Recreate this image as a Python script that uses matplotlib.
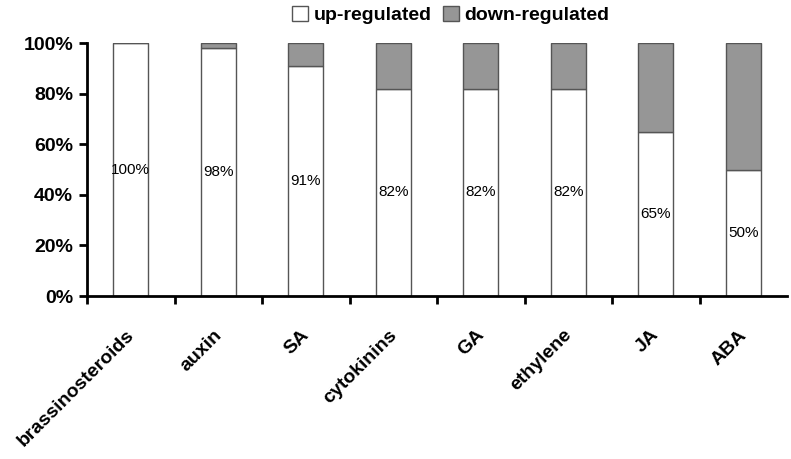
import numpy as np
import matplotlib
matplotlib.use("Agg")
import matplotlib.pyplot as plt
from matplotlib.ticker import FuncFormatter

categories = ["brassinosteroids", "auxin", "SA", "cytokinins", "GA", "ethylene", "JA", "ABA"]
up_pct = [100, 98, 91, 82, 82, 82, 65, 50]
down_pct = [0, 2, 9, 18, 18, 18, 35, 50]
up_labels = ["100%", "98%", "91%", "82%", "82%", "82%", "65%", "50%"]

plt.rcParams['font.family'] = ['Liberation Sans', 'DejaVu Sans']

fig = plt.figure(figsize=(7.91, 4.59), dpi=100)
ax = fig.add_axes([0.110, 0.355, 0.885, 0.551])

x = np.arange(len(categories))
ax.bar(x, up_pct, width=0.4, color='white', edgecolor='#555555', linewidth=1.0,
       label='up-regulated')
ax.bar(x, down_pct, width=0.4, bottom=up_pct, color='#969696', edgecolor='#555555',
       linewidth=1.0, label='down-regulated')

for xi, u, lab in zip(x, up_pct, up_labels):
    ax.text(xi, u / 2, lab, ha='center', va='center', fontsize=11, color='black')

ax.set_xlim(-0.5, len(categories) - 0.5)
ax.set_ylim(0, 100)
ax.set_yticks([0, 20, 40, 60, 80, 100])
ax.yaxis.set_major_formatter(FuncFormatter(lambda v, p: f"{int(v)}%"))
for lbl in ax.get_yticklabels():
    lbl.set_fontweight('bold')
    lbl.set_fontsize(14)

ax.set_xticks(x - 0.06)
ax.set_xticklabels(categories, rotation=45, ha='right', va='top', rotation_mode='anchor',
                   fontsize=14, fontweight='bold')
ax.tick_params(axis='x', which='major', length=0, pad=22)
ax.set_xticks(np.arange(len(categories)) - 0.5, minor=True)
ax.tick_params(axis='x', which='minor', length=6, width=2, direction='out')
ax.tick_params(axis='y', length=6, width=2, direction='out', pad=4)

for s in ['top', 'right']:
    ax.spines[s].set_visible(False)
ax.spines['left'].set_linewidth(2)
ax.spines['bottom'].set_linewidth(2)

leg = fig.legend(loc='upper center', bbox_to_anchor=(0.57, 1.025), ncol=2, frameon=False,
                 handlelength=0.8, handleheight=0.8, handletextpad=0.3, columnspacing=0.6,
                 prop={'weight': 'bold', 'size': 14})

fig.savefig("out.png", dpi=100)
